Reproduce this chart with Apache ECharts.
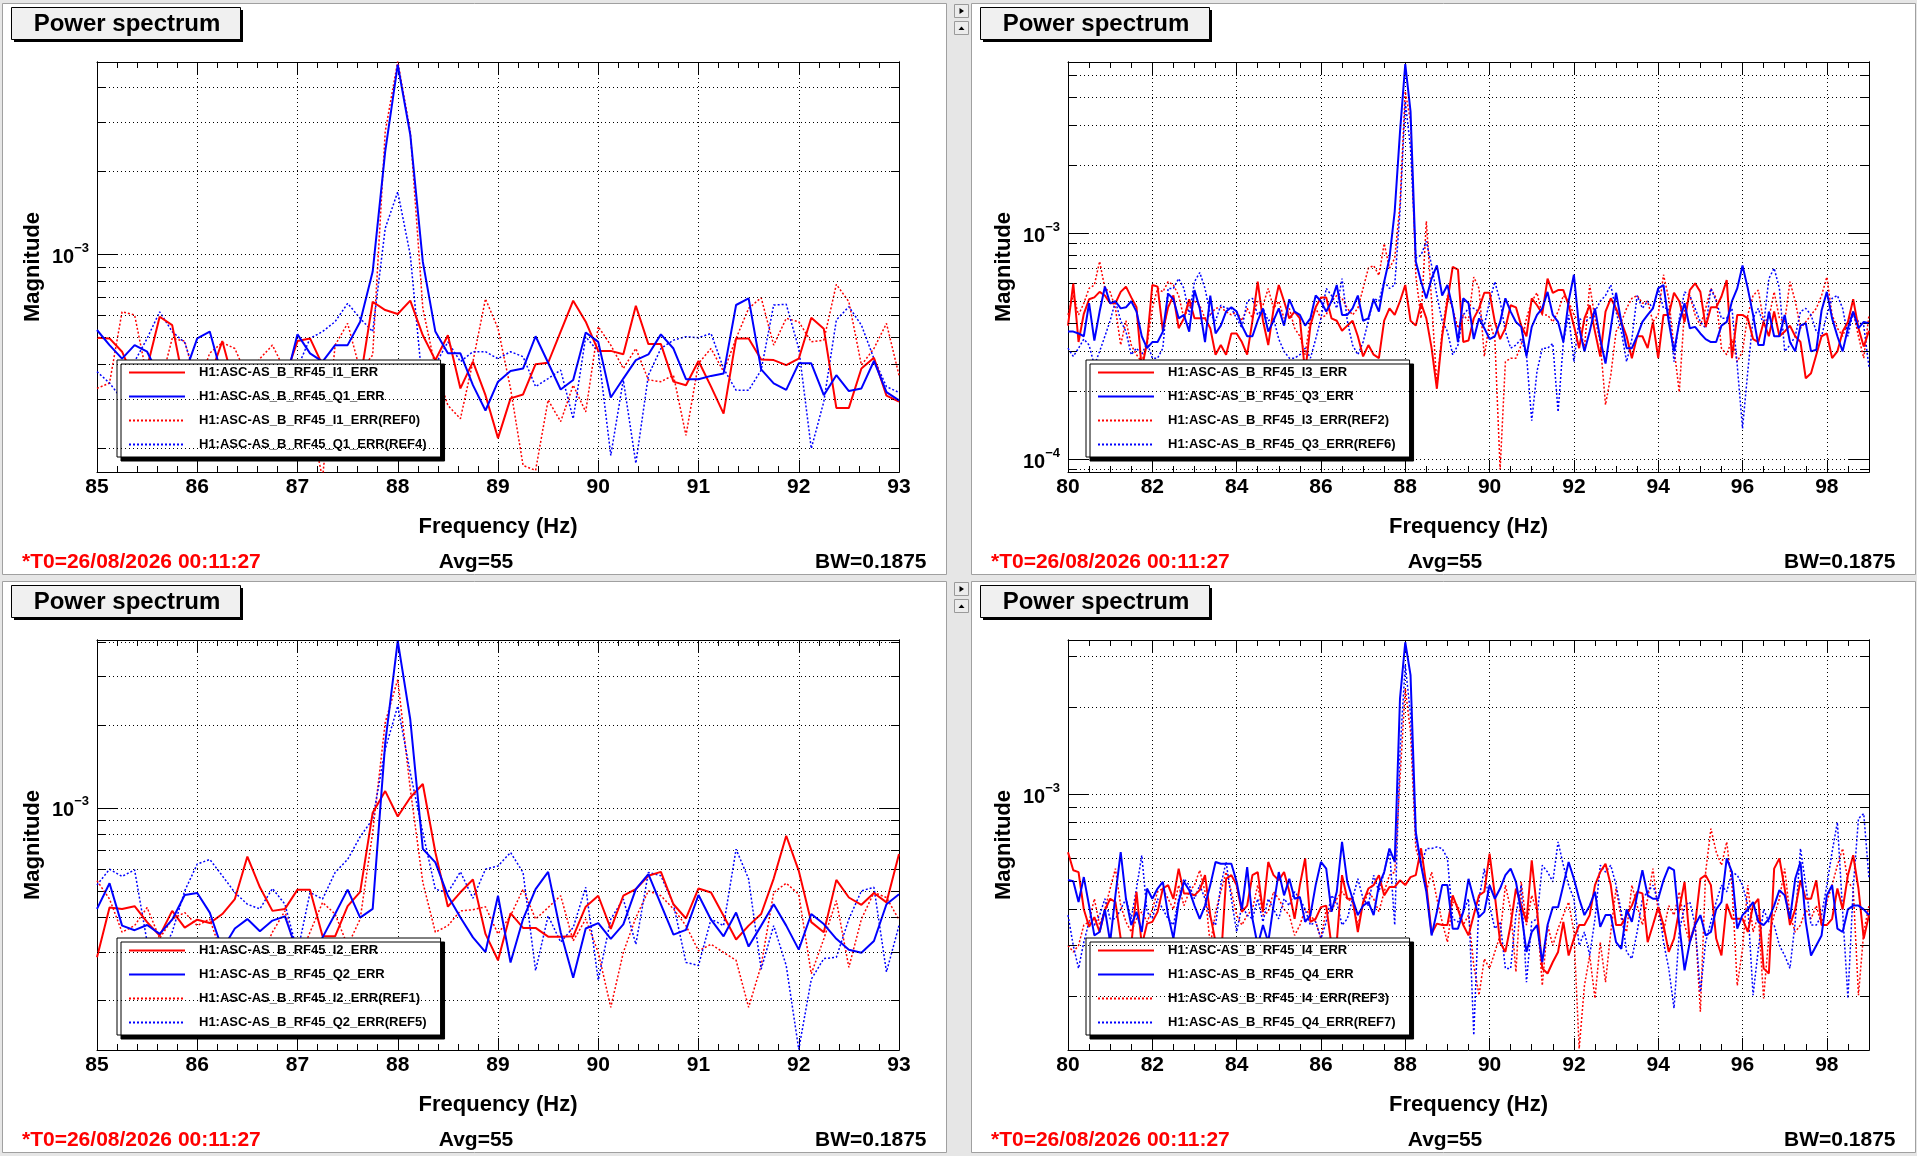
<!DOCTYPE html>
<html>
<head>
<meta charset="utf-8">
<title>Power spectrum</title>
<script src="https://cdn.jsdelivr.net/npm/echarts@6.0.0/dist/echarts.min.js"></script>
<style>
  html, body { margin: 0; padding: 0; background: #e6e6e6; }
  #chart { width: 1917px; height: 1156px; }
</style>
</head>
<body>
<div id="chart"></div>
<script>
// DTT power spectra, Hanning window: BW = 1.5 * df -> df = 0.125 Hz
const DF = 0.125;
const FONT = "'Liberation Sans', Arial, Helvetica, sans-serif";

// ---- magnitudes, units of 1e-4 ----
// top left: 85 - 93 Hz
const tlI1 = [5.0, 4.97, 4.45, 3.5, 3.9, 5.95, 5.55, 3.3, 2.9, 3.6, 4.86, 3.3, 3.0, 3.4, 3.2, 3.6, 4.86, 4.97, 3.98, 3.5, 3.3, 3.5, 6.74, 6.29, 6.09, 6.8, 5.1, 4.15, 5.1, 3.28, 4.1, 3.1, 2.17,
  3.02, 3.12, 4.01, 4.06, 5.26, 6.8, 5.71, 4.48, 4.48, 4.36, 6.52, 4.74, 4.74, 3.47, 3.37, 4.12, 3.33, 2.66, 4.97, 4.97, 4.17, 4.15, 3.98, 4.2, 5.9, 5.38, 2.79, 2.79, 3.87, 4.23, 3.09, 2.94];
const tlQ1 = [5.33, 4.7, 4.2, 4.7, 4.45, 3.6, 3.2, 3.7, 4.97, 5.26, 3.6, 3.2, 3.0, 3.3, 3.1, 3.4, 5.14, 4.39, 4.1, 4.7, 4.7, 5.71, 8.66, 23.5, 48.3, 27.0, 9.4, 5.26, 4.39, 4.39, 3.37, 2.73, 3.47,
  3.79, 3.87, 5.06, 4.06, 3.25, 3.52, 5.22, 4.83, 3.04, 3.56, 4.15, 4.35, 5.14, 4.57, 3.54, 3.54, 3.64, 3.71, 6.56, 6.93, 3.84, 3.42, 3.24, 4.04, 4.04, 3.1, 3.66, 3.21, 3.28, 4.12, 3.18, 2.97];
const tlI1ref = [3.28, 3.43, 6.2, 6.04, 3.6, 3.3, 4.97, 4.86, 3.3, 4.4, 4.8, 4.57, 3.6, 4.2, 4.7, 3.8, 3.2, 2.6, 1.55, 4.7, 5.63, 3.8, 4.33, 27.7, 49.7, 27.7, 6.38, 3.9, 2.85, 2.55, 4.1, 6.9, 5.4,
  3.28, 1.73, 1.66, 2.98, 2.49, 3.37, 2.7, 5.48, 4.7, 3.87, 4.57, 3.52, 3.47, 3.66, 2.22, 4.04, 4.57, 3.77, 4.97, 6.38, 6.97, 4.7, 5.87, 5.71, 4.83, 4.9, 7.79, 6.74, 3.98, 4.57, 5.63, 3.66];
const tlQ1ref = [3.77, 3.43, 3.0, 4.1, 4.97, 6.2, 5.26, 4.8, 3.5, 3.2, 3.0, 3.3, 3.1, 3.4, 3.3, 3.6, 3.9, 4.97, 5.26, 5.71, 6.65, 5.87, 5.26, 12.4, 16.8, 9.94, 3.3, 4.0, 4.83, 4.1, 4.45, 4.45, 4.2,
  4.45, 4.27, 3.33, 3.56, 3.82, 2.55, 5.04, 4.45, 1.88, 3.52, 1.76, 3.66, 4.57, 4.9, 5.04, 5.0, 5.18, 3.87, 3.23, 3.23, 3.82, 6.56, 6.6, 4.57, 1.99, 2.94, 5.79, 6.47, 5.55, 4.2, 3.33, 3.17];

// top right: 80 - 99 Hz
const trI3 = [3.9, 6.0, 3.3, 4.4, 5.1, 5.2, 5.5, 5.3, 4.9, 4.9, 5.5, 5.8, 5.2, 4.7, 2.5, 3.3, 5.9, 5.8, 3.7, 4.7,
  5.3, 3.8, 4.2, 5.1, 4.2, 4.2, 4.2, 3.8, 2.9, 3.2, 2.9, 3.6, 3.6, 3.3, 2.9, 4.1, 6.1, 4.1, 3.2, 4.6,
  5.9, 5.0, 4.2, 4.5, 4.2, 2.4, 3.9, 4.7, 5.2, 5.2, 4.2, 4.1, 3.7, 3.9, 4.1, 3.5, 2.85, 3.2, 2.9, 2.8,
  4.1, 4.65, 4.35, 5.0, 5.9, 4.1, 3.9, 4.9, 4.2, 3.1, 2.05, 3.5, 5.0, 7.1, 6.9, 3.3, 3.35,
  4.2, 4.65, 5.45, 5.45, 4.05, 3.4, 3.8, 4.8, 4.7, 3.9, 3.5, 5.15, 4.8, 4.4, 6.3, 5.45, 5.6, 5.6, 4.8, 3.9,
  3.1, 4.2, 4.8, 3.67, 2.85, 4.5, 5.15, 4.65, 4.05, 3.5, 2.8, 3.5, 3.5, 3.1, 4.05, 2.8, 4.35, 4.35, 5.45, 5.0,
  4.05, 5.6, 6.0, 5.5, 3.85, 4.7, 4.7, 5.25, 6.2, 2.8, 4.35, 4.35, 4.2, 3.4, 3.3, 4.05, 3.5, 4.5, 3.5, 3.67,
  3.9, 3.5, 3.3, 2.28, 2.4, 2.9, 3.5, 3.6, 2.8, 3.0, 3.67, 4.05, 5.1, 3.8, 3.15, 3.7];
const trQ3 = [3.67, 3.67, 3.6, 3.5, 4.9, 3.35, 4.5, 5.8, 4.9, 5.0, 4.65, 4.7, 5.0, 4.5, 3.5, 3.1, 3.3, 3.3, 3.67, 5.4,
  5.1, 4.2, 4.35, 3.67, 5.6, 4.65, 3.3, 5.3, 3.6, 3.9, 4.5, 4.7, 4.5, 3.9, 3.5, 3.5, 4.1, 4.65, 3.67, 4.1,
  4.65, 3.9, 5.1, 4.5, 4.35, 3.9, 4.2, 5.3, 5.0, 4.5, 5.0, 5.9, 4.35, 4.35, 4.65, 5.3, 4.1, 4.2, 5.1, 4.5,
  6.1, 7.75, 12.5, 28.0, 56.0, 34.6, 7.5, 6.1, 5.15, 6.3, 7.2, 5.3, 5.9, 4.65, 3.3, 5.15, 4.9,
  3.4, 4.2, 3.8, 3.4, 3.5, 4.05, 5.15, 4.5, 4.05, 3.85, 2.85, 3.85, 4.35, 4.65, 5.5, 4.35, 4.05, 3.3, 5.0, 6.55,
  3.8, 3.0, 3.67, 4.65, 3.4, 2.65, 3.8, 5.45, 4.05, 3.1, 3.1, 3.5, 4.05, 4.35, 4.65, 5.7, 5.9, 4.05, 3.0, 4.05,
  4.9, 3.8, 3.85, 3.6, 3.4, 3.3, 3.3, 3.9, 4.05, 5.0, 5.7, 7.2, 5.7, 4.35, 3.2, 3.2, 4.5, 3.5, 3.5, 4.35,
  3.3, 3.0, 3.9, 4.0, 3.0, 3.05, 4.55, 5.5, 4.2, 3.5, 3.0, 3.8, 4.5, 3.8, 4.05, 4.0];
const trI3ref = [4.35, 5.3, 4.35, 4.9, 5.7, 5.9, 7.5, 5.7, 5.5, 4.65, 3.2, 4.1, 3.2, 2.9, 2.7, 3.2, 4.65, 5.7, 5.5, 6.1,
  5.9, 5.3, 4.2, 4.8, 5.0, 4.8, 4.2, 4.35, 4.65, 4.7, 4.5, 4.35, 4.5, 4.1, 4.65, 4.2, 5.0, 4.8, 5.7, 4.65,
  5.0, 4.2, 4.65, 3.8, 3.5, 2.9, 4.2, 4.65, 4.2, 4.35, 5.0, 5.3, 5.15, 4.65, 4.35, 4.65, 5.7, 7.0, 7.2, 6.5,
  9.0, 7.0, 7.75, 13.4, 42.4, 31.2, 6.5, 4.2, 11.3, 5.0, 2.1, 3.67, 5.3, 4.65, 3.8, 4.35, 4.1,
  6.4, 5.7, 2.85, 4.05, 3.4, 0.9, 2.7, 2.8, 2.8, 3.2, 4.2, 5.0, 5.45, 4.35, 4.35, 4.05, 4.5, 5.3, 5.0, 4.35,
  4.05, 3.1, 5.9, 4.2, 3.3, 1.74, 2.35, 3.67, 4.05, 4.65, 5.15, 5.3, 4.9, 5.0, 4.05, 4.35, 6.55, 5.15, 3.1, 1.98,
  4.65, 5.3, 4.35, 3.9, 4.65, 5.7, 5.15, 3.1, 2.9, 3.4, 2.7, 3.0, 4.35, 5.3, 5.6, 4.05, 4.2, 5.5, 4.2, 4.05,
  6.1, 5.0, 3.8, 4.05, 4.35, 4.65, 5.3, 6.4, 4.35, 3.8, 3.5, 4.05, 4.5, 3.5, 2.8, 4.35];
const trQ3ref = [3.1, 2.85, 3.1, 3.4, 3.2, 2.6, 3.0, 3.5, 4.1, 5.0, 4.1, 3.67, 2.9, 3.1, 2.9, 3.3, 2.8, 2.8, 3.1, 5.7,
  5.7, 6.3, 5.7, 4.35, 6.1, 6.7, 5.7, 4.35, 4.1, 4.8, 4.65, 4.65, 4.2, 3.8, 5.0, 5.15, 4.35, 4.65, 4.1, 4.2,
  3.4, 3.0, 2.8, 2.8, 2.9, 3.1, 2.8, 3.4, 4.2, 5.7, 5.3, 4.65, 6.3, 4.1, 3.2, 2.9, 3.3, 4.1, 5.15, 5.0,
  6.1, 5.7, 5.9, 12.5, 38.3, 23.8, 7.75, 8.0, 9.2, 7.2, 5.3, 4.1, 3.67, 2.9, 3.2, 4.35, 4.65,
  4.65, 4.5, 3.9, 5.0, 6.1, 5.0, 3.67, 3.1, 3.2, 3.4, 2.9, 1.48, 2.45, 3.1, 3.1, 3.25, 1.62, 3.3, 4.35, 2.7,
  4.2, 4.05, 4.2, 4.5, 5.0, 5.3, 5.9, 4.5, 3.67, 2.7, 3.4, 5.3, 4.65, 5.0, 4.65, 5.7, 4.65, 4.65, 2.7, 4.2,
  5.5, 5.3, 4.65, 4.05, 3.8, 5.7, 5.0, 4.2, 4.2, 4.65, 2.6, 1.37, 2.45, 4.2, 4.65, 3.9, 6.3, 7.0, 5.7, 3.0,
  3.2, 3.5, 4.5, 4.65, 4.35, 3.67, 3.5, 4.35, 5.15, 5.3, 4.65, 3.5, 4.5, 4.05, 3.9, 2.55];

// bottom left: 85 - 93 Hz
const blI2 = [2.87, 4.35, 4.3, 4.4, 3.85, 3.44, 4.23, 3.68, 3.93, 3.82, 4.12, 4.67, 6.66, 5.15, 4.23, 4.3, 5.05, 5.05, 3.42, 3.42, 4.4, 4.96, 9.6, 11.5, 9.3, 10.9, 12.2, 6.9, 4.38, 4.94, 5.5, 3.49, 2.8,
  4.15, 3.67, 3.67, 3.41, 3.41, 3.42, 4.38, 4.8, 3.64, 4.8, 5.07, 5.67, 5.86, 4.47, 3.97, 5.1, 4.93, 4.06, 3.33, 3.74, 4.12, 5.54, 7.92, 5.91, 3.85, 3.54, 5.48, 4.73, 4.45, 4.91, 4.54, 6.8];
const blQ2 = [4.3, 5.33, 3.74, 3.6, 3.76, 3.49, 3.93, 4.83, 4.91, 4.17, 3.07, 3.65, 3.95, 3.57, 3.9, 4.04, 2.99, 2.68, 3.39, 4.12, 5.05, 4.0, 4.3, 17.2, 40.3, 20.9, 7.1, 6.34, 4.8, 4.0, 3.39, 3.0, 4.8,
  2.75, 3.95, 5.07, 5.86, 3.54, 2.42, 3.65, 3.82, 3.35, 3.78, 5.07, 5.75, 4.47, 3.47, 3.61, 4.83, 3.93, 3.42, 4.17, 3.14, 3.74, 4.47, 3.74, 3.06, 4.12, 3.79, 3.35, 3.06, 2.98, 3.29, 4.47, 4.86];
const blI2ref = [5.44, 4.67, 3.54, 3.74, 4.35, 3.36, 3.95, 4.17, 3.74, 3.95, 2.9, 2.68, 2.33, 2.83, 3.54, 4.23, 2.76, 3.54, 4.54, 4.12, 3.16, 3.95, 8.14, 20.4, 29.2, 11.7, 5.37, 3.54, 3.74, 4.23, 4.27, 4.38, 3.49,
  4.06, 5.07, 3.95, 4.35, 4.8, 3.29, 3.95, 2.99, 1.89, 2.99, 4.0, 5.0, 4.8, 4.3, 3.74, 3.03, 3.2, 2.99, 2.8, 1.89, 2.68, 4.93, 5.33, 4.86, 2.5, 3.35, 4.61, 2.64, 3.95, 4.93, 4.73, 3.93];
const blQ2ref = [5.25, 5.99, 5.64, 5.96, 3.26, 2.83, 3.54, 5.0, 6.25, 6.5, 5.67, 4.93, 4.47, 4.3, 5.1, 4.47, 2.99, 4.93, 4.67, 5.83, 6.5, 7.86, 9.1, 16.3, 23.4, 13.4, 8.14, 5.07, 4.93, 5.86, 4.7, 5.99, 6.15,
  6.89, 5.83, 2.57, 4.06, 3.26, 3.68, 5.15, 2.37, 3.95, 4.67, 3.2, 5.83, 5.67, 4.47, 2.75, 2.68, 3.95, 3.74, 7.08, 5.52, 2.6, 3.74, 2.68, 1.33, 2.39, 2.84, 2.87, 3.95, 5.0, 5.15, 2.54, 3.74];

// bottom right: 80 - 99 Hz
const brI4 = [6.3, 5.46, 5.38, 4.0, 3.48, 3.76, 3.34, 3.97, 4.35, 4.24, 3.17, 2.85, 3.0, 4.6, 3.0, 3.57, 3.62, 3.92, 4.72, 4.85,
  4.35, 5.53, 4.54, 4.54, 4.47, 4.66, 5.25, 3.82, 3.08, 2.63, 5.1, 5.25, 4.85, 3.92, 4.12, 5.25, 5.38, 3.92, 5.83, 5.25,
  5.04, 5.38, 4.6, 3.71, 4.85, 6.0, 3.62, 3.71, 4.07, 4.12, 3.0, 3.08, 5.25, 4.35, 4.35, 3.34, 4.24, 4.72, 4.85, 5.25,
  4.47, 4.78, 4.78, 5.04, 4.85, 5.17, 5.25, 6.5, 4.85, 3.3, 3.57, 3.53, 3.53, 4.47, 4.0, 3.53, 3.25,
  3.82, 4.47, 4.6, 6.23, 4.47, 3.08, 2.85, 3.53, 4.72, 4.12, 3.62, 5.91, 4.0, 2.5, 2.4, 2.63, 2.85, 3.62, 2.77, 3.17,
  3.53, 3.53, 3.82, 4.85, 5.38, 5.75, 4.85, 3.53, 3.53, 3.82, 4.12, 4.6, 4.54, 3.08, 3.53, 4.07, 3.53, 2.85, 3.17, 4.0,
  4.98, 3.08, 3.53, 5.1, 5.25, 4.85, 3.17, 2.77, 4.18, 3.71, 3.71, 3.71, 3.34, 4.12, 4.35, 2.5, 2.4, 5.53, 6.0, 4.72,
  3.53, 4.0, 5.04, 4.35, 4.35, 5.04, 3.53, 3.53, 3.71, 4.72, 4.0, 5.25, 6.15, 4.72, 3.17, 3.82];
const brQ4 = [5.05, 5.0, 4.24, 5.17, 4.12, 3.25, 3.34, 4.0, 3.08, 4.47, 6.3, 4.35, 3.53, 3.92, 3.34, 4.72, 4.35, 4.72, 4.98, 3.82,
  3.17, 4.24, 4.98, 4.66, 4.12, 3.71, 4.12, 4.85, 5.83, 5.75, 5.75, 5.75, 4.98, 4.0, 5.6, 3.71, 3.0, 3.53, 3.08, 4.12,
  5.38, 4.47, 5.1, 4.35, 4.41, 3.62, 3.82, 4.85, 5.83, 5.53, 3.92, 4.6, 6.84, 4.98, 4.35, 3.82, 4.12, 4.24, 3.82, 4.85,
  5.38, 6.49, 5.83, 21.4, 33.5, 25.8, 7.4, 5.68, 4.6, 3.25, 3.92, 4.85, 4.85, 3.43, 3.43, 3.92, 5.1,
  4.35, 3.76, 3.92, 4.85, 4.35, 4.72, 5.25, 5.53, 4.98, 3.92, 2.85, 3.34, 3.53, 2.63, 3.53, 4.07, 4.07, 4.85, 5.83, 5.1,
  4.35, 3.82, 4.12, 4.6, 3.48, 3.82, 3.82, 3.08, 2.92, 4.0, 3.62, 4.47, 5.46, 4.47, 4.35, 4.35, 5.04, 5.6, 5.46, 3.53,
  2.46, 3.08, 3.53, 3.82, 3.25, 3.34, 4.0, 4.24, 6.0, 5.38, 3.43, 3.82, 4.0, 4.24, 3.62, 3.53, 3.71, 4.12, 4.66, 4.47,
  3.71, 5.1, 5.83, 3.62, 2.77, 3.0, 3.25, 4.47, 4.85, 3.43, 3.34, 4.0, 4.12, 4.12, 4.0, 3.82];
const brI4ref = [3.0, 2.85, 3.0, 3.53, 3.62, 4.35, 3.53, 4.0, 4.72, 5.53, 4.12, 3.62, 3.34, 3.71, 3.92, 3.62, 4.0, 4.6, 4.72, 4.35,
  4.0, 4.85, 4.12, 4.6, 4.85, 5.46, 4.6, 3.0, 3.92, 4.6, 5.38, 4.6, 3.82, 3.53, 3.82, 4.0, 4.85, 3.82, 3.92, 4.6,
  4.35, 4.0, 3.82, 3.25, 3.53, 4.0, 3.82, 3.62, 3.17, 4.0, 3.92, 4.35, 4.6, 4.35, 4.24, 3.53, 4.12, 4.6, 4.35, 3.92,
  4.6, 5.25, 5.38, 11.3, 23.2, 16.4, 6.49, 5.68, 4.6, 5.38, 4.35, 3.62, 3.08, 4.24, 4.12, 3.53, 3.82,
  2.56, 2.02, 2.7, 2.5, 2.85, 3.25, 4.85, 4.0, 2.43, 4.98, 3.53, 4.47, 3.92, 2.18, 3.53, 3.0, 3.43, 3.82, 4.24, 3.34,
  1.32, 2.18, 2.77, 1.97, 3.08, 2.24, 3.34, 4.72, 3.71, 3.34, 4.85, 4.12, 3.53, 4.35, 5.53, 3.92, 3.34, 4.12, 3.82, 4.6,
  3.53, 3.08, 3.62, 1.77, 5.38, 7.6, 6.32, 5.68, 6.84, 4.85, 2.18, 2.92, 4.85, 3.34, 3.82, 1.97, 3.25, 3.82, 4.35, 5.53,
  3.82, 3.34, 3.53, 4.0, 3.71, 4.12, 3.53, 4.24, 4.85, 5.68, 6.49, 4.98, 4.72, 2.02, 3.34, 4.12];
const brQ4ref = [3.82, 3.0, 2.5, 3.08, 3.62, 3.53, 3.82, 4.35, 3.71, 3.71, 4.0, 4.35, 3.71, 4.72, 6.15, 3.92, 3.71, 4.35, 4.0, 3.71,
  3.53, 4.35, 5.1, 4.85, 4.35, 4.85, 4.35, 3.71, 3.53, 4.85, 5.83, 4.35, 3.34, 4.12, 3.82, 3.71, 4.35, 3.62, 4.35, 4.0,
  3.71, 4.35, 4.12, 4.6, 4.35, 4.0, 3.53, 3.62, 3.17, 3.62, 4.47, 4.24, 3.53, 3.71, 4.35, 5.1, 4.35, 4.12, 5.25, 4.6,
  5.38, 6.49, 3.53, 14.0, 28.0, 18.8, 7.03, 5.68, 6.49, 6.49, 6.57, 6.49, 6.0, 3.71, 3.62, 3.92, 4.35,
  1.47, 4.35, 5.53, 4.12, 3.43, 3.62, 2.5, 2.5, 3.82, 4.85, 2.24, 3.62, 3.71, 5.68, 5.38, 4.98, 6.84, 5.68, 4.85, 4.35,
  3.0, 3.34, 2.77, 3.71, 5.68, 5.38, 5.68, 4.85, 3.92, 2.85, 2.7, 3.34, 4.35, 4.6, 4.85, 4.24, 3.08, 2.5, 1.82, 3.34,
  4.12, 4.24, 3.53, 2.07, 3.08, 3.62, 4.24, 4.85, 4.6, 5.38, 5.25, 4.85, 4.12, 2.02, 2.92, 4.0, 3.62, 3.53, 3.0, 2.77,
  2.5, 3.62, 6.49, 4.85, 3.53, 3.53, 3.82, 4.85, 6.32, 8.0, 3.92, 1.97, 4.72, 8.24, 8.57, 5.1];

const tlNames = ['H1:ASC-AS_B_RF45_I1_ERR', 'H1:ASC-AS_B_RF45_Q1_ERR', 'H1:ASC-AS_B_RF45_I1_ERR(REF0)', 'H1:ASC-AS_B_RF45_Q1_ERR(REF4)'];
const trNames = ['H1:ASC-AS_B_RF45_I3_ERR', 'H1:ASC-AS_B_RF45_Q3_ERR', 'H1:ASC-AS_B_RF45_I3_ERR(REF2)', 'H1:ASC-AS_B_RF45_Q3_ERR(REF6)'];
const blNames = ['H1:ASC-AS_B_RF45_I2_ERR', 'H1:ASC-AS_B_RF45_Q2_ERR', 'H1:ASC-AS_B_RF45_I2_ERR(REF1)', 'H1:ASC-AS_B_RF45_Q2_ERR(REF5)'];
const brNames = ['H1:ASC-AS_B_RF45_I4_ERR', 'H1:ASC-AS_B_RF45_Q4_ERR', 'H1:ASC-AS_B_RF45_I4_ERR(REF3)', 'H1:ASC-AS_B_RF45_Q4_ERR(REF7)'];

const footT0 = '*T0=26/08/2026 00:11:27';
const footAvg = 'Avg=55';
const footBW = 'BW=0.1875';

// panel layout (pixels of the 1917x1156 canvas)
const panels = [
  { ox: 3, oy: 4, gx: 97, gy: 62, gw: 802, fmin: 85, fmax: 93, step: 1, minor: 5, ymin: 1.638e-4, ymax: 4.94e-3, names: tlNames, data: [tlI1, tlQ1, tlI1ref, tlQ1ref] },
  { ox: 972, oy: 4, gx: 1068, gy: 62, gw: 801, fmin: 80, fmax: 99, step: 2, minor: 4, ymin: 8.78e-5, ymax: 5.72e-3, names: trNames, data: [trI3, trQ3, trI3ref, trQ3ref] },
  { ox: 3, oy: 582, gx: 97, gy: 640, gw: 802, fmin: 85, fmax: 93, step: 1, minor: 5, ymin: 1.324e-4, ymax: 4.06e-3, names: blNames, data: [blI2, blQ2, blI2ref, blQ2ref] },
  { ox: 972, oy: 582, gx: 1068, gy: 640, gw: 801, fmin: 80, fmax: 99, step: 2, minor: 4, ymin: 1.306e-4, ymax: 3.41e-3, names: brNames, data: [brI4, brQ4, brI4ref, brQ4ref] }
];

const lineStyles = [
  { color: '#ff0000', width: 2, type: 'solid' },
  { color: '#0000ff', width: 2, type: 'solid' },
  { color: '#ff0000', width: 1.5, type: [2, 2] },
  { color: '#0000ff', width: 1.5, type: [2, 2] }
];

function logGrid(lo, hi) {
  const out = [];
  for (let e = Math.floor(Math.log10(lo)); e <= Math.ceil(Math.log10(hi)); e++) {
    for (let m = 1; m <= 9; m++) {
      const v = +(m * Math.pow(10, e)).toPrecision(3);
      if (v > lo && v < hi) out.push(v);
    }
  }
  return out;
}
const isDecade = v => Math.abs(Math.log10(v) - Math.round(Math.log10(v))) < 1e-6;
const powLabel = v => {
  if (!isDecade(v)) return '';
  const e = Math.round(Math.log10(v));
  return '{b|10}{s|' + (e < 0 ? '\u2212' + (-e) : e) + '}';
};

const black = { color: '#000', width: 1 };
const grid = [], xAxis = [], yAxis = [], series = [], legend = [], graphic = [];

panels.forEach((p, idx) => {
  grid.push({ left: p.gx, top: p.gy, width: p.gw, height: 410 });

  const gv = logGrid(p.ymin, p.ymax);
  const decades = gv.filter(isDecade);
  const minors = gv.filter(v => !isDecade(v));

  const xBase = {
    gridIndex: idx, type: 'value', min: p.fmin, max: p.fmax, interval: p.step,
    axisLine: { show: true, onZero: false, lineStyle: black },
    axisTick: { show: true, inside: true, length: 12, lineStyle: black },
    minorTick: { show: true, splitNumber: p.minor, length: 6, lineStyle: black }
  };
  xAxis.push(Object.assign({}, xBase, {
    position: 'bottom',
    axisLabel: { color: '#000', fontSize: 21, fontWeight: 'bold', fontFamily: FONT, margin: 5, showMaxLabel: p.fmax % p.step === 0 },
    splitLine: { show: true, lineStyle: { color: '#000', width: 1, type: [1, 3] } },
    name: 'Frequency (Hz)', nameLocation: 'middle', nameGap: 44,
    nameTextStyle: { color: '#000', fontSize: 22, fontWeight: 'bold', fontFamily: FONT }
  }));
  xAxis.push(Object.assign({}, xBase, { position: 'top', axisLabel: { show: false }, splitLine: { show: false } }));

  const yBase = {
    gridIndex: idx, type: 'log', logBase: 10, min: p.ymin, max: p.ymax,
    axisLine: { show: true, onZero: false, lineStyle: black },
    splitLine: { show: false }, minorTick: { show: false }
  };
  // order matters: ECharts flips an axis to the free side when its side is taken
  yAxis.push(Object.assign({}, yBase, {
    position: 'left',
    axisTick: { show: true, inside: true, length: 20, customValues: decades, lineStyle: black },
    axisLabel: {
      customValues: decades, formatter: powLabel, margin: 8,
      rich: {
        b: { color: '#000', fontSize: 20, fontWeight: 'bold', fontFamily: FONT, padding: [6, 0, 0, 0] },
        s: { color: '#000', fontSize: 13, fontWeight: 'bold', fontFamily: FONT, padding: [0, 0, 12, 0] }
      }
    },
    name: 'Magnitude', nameLocation: 'middle', nameGap: 53, nameRotate: 90,
    nameTextStyle: { color: '#000', fontSize: 22, fontWeight: 'bold', fontFamily: FONT }
  }));
  yAxis.push(Object.assign({}, yBase, {
    position: 'right',
    axisTick: { show: true, inside: true, length: 20, customValues: decades, lineStyle: black },
    axisLabel: { show: false }
  }));
  yAxis.push(Object.assign({}, yBase, {
    position: 'left',
    axisTick: { show: true, inside: true, length: 8, customValues: minors, lineStyle: black },
    axisLabel: { show: false }
  }));
  yAxis.push(Object.assign({}, yBase, {
    position: 'right',
    axisTick: { show: true, inside: true, length: 8, customValues: minors, lineStyle: black },
    axisLabel: { show: false }
  }));

  // references underneath, live traces on top
  [2, 3, 0, 1].forEach((s, n) => {
    const item = {
      name: p.names[s], type: 'line',
      xAxisIndex: idx * 2, yAxisIndex: idx * 4,
      data: p.data[s].map((v, i) => [p.fmin + i * DF, v * 1e-4]),
      symbol: 'none', showSymbol: false, silent: true, clip: true,
      lineStyle: lineStyles[s], itemStyle: { color: lineStyles[s].color },
      emphasis: { disabled: true }
    };
    if (n === 0) {
      // dotted log grid (1..9 x 10^n); precision kept high so 2e-4 is not rounded to 0
      item.markLine = {
        silent: true, precision: 12, symbol: ['none', 'none'], label: { show: false },
        lineStyle: { color: '#000', width: 1, type: [1, 3] },
        emphasis: { disabled: true },
        data: gv.map(v => ({ yAxis: v }))
      };
    }
    series.push(item);
  });

  legend.push({
    left: p.ox + 114, top: p.oy + 356, orient: 'vertical',
    data: p.names, selectedMode: false,
    itemWidth: 56, itemHeight: 14, itemGap: 11, padding: [6, 14, 6, 11],
    itemStyle: { opacity: 0 },
    backgroundColor: '#fff', borderColor: '#000', borderWidth: 1, borderRadius: 0,
    shadowColor: '#000', shadowBlur: 0, shadowOffsetX: 4, shadowOffsetY: 4,
    textStyle: { color: '#000', fontSize: 13, fontWeight: 'bold', fontFamily: FONT, padding: [0, 0, 0, 9] }
  });

  // pad frame
  graphic.push({ type: 'rect', z: -1, silent: true, shape: { x: p.ox - 0.5, y: p.oy - 0.5, width: 944, height: 571 }, style: { fill: '#fff', stroke: '#a0a0a0', lineWidth: 1 } });
  // title box
  const tx = p.ox + 8, ty = p.oy + 3;
  graphic.push({ type: 'rect', z: 50, silent: true, shape: { x: tx + 3, y: ty + 3, width: 229, height: 32 }, style: { fill: '#000' } });
  graphic.push({ type: 'rect', z: 51, silent: true, shape: { x: tx + 0.5, y: ty + 0.5, width: 229, height: 32 }, style: { fill: '#f0f0f0', stroke: '#000', lineWidth: 1 } });
  graphic.push({ type: 'text', z: 52, silent: true, style: { text: 'Power spectrum', x: tx + 116, y: ty + 17, align: 'center', verticalAlign: 'middle', fill: '#000', fontSize: 24, fontWeight: 'bold', fontFamily: FONT } });
  // footer
  const fy = p.oy + 558.5;
  graphic.push({ type: 'text', z: 52, silent: true, style: { text: footT0, x: p.ox + 19, y: fy, align: 'left', verticalAlign: 'middle', fill: '#ff0000', fontSize: 21, fontWeight: 'bold', fontFamily: FONT } });
  graphic.push({ type: 'text', z: 52, silent: true, style: { text: footAvg, x: p.ox + 473, y: fy, align: 'center', verticalAlign: 'middle', fill: '#000', fontSize: 21, fontWeight: 'bold', fontFamily: FONT } });
  graphic.push({ type: 'text', z: 52, silent: true, style: { text: footBW, x: p.ox + 923.5, y: fy, align: 'right', verticalAlign: 'middle', fill: '#000', fontSize: 21, fontWeight: 'bold', fontFamily: FONT } });
});

// little pad buttons in the gutter
[4, 582].forEach(by => {
  graphic.push({ type: 'rect', z: 1, silent: true, shape: { x: 954.5, y: by + 0.5, width: 14, height: 13 }, style: { fill: '#ececec', stroke: '#9a9a9a', lineWidth: 1 } });
  graphic.push({ type: 'polygon', z: 2, silent: true, shape: { points: [[959.5, by + 4], [964, by + 7], [959.5, by + 10]] }, style: { fill: '#000' } });
  graphic.push({ type: 'rect', z: 1, silent: true, shape: { x: 954.5, y: by + 17.5, width: 14, height: 13 }, style: { fill: '#ececec', stroke: '#9a9a9a', lineWidth: 1 } });
  graphic.push({ type: 'polygon', z: 2, silent: true, shape: { points: [[958.5, by + 26], [964.5, by + 26], [961.5, by + 22.5]] }, style: { fill: '#000' } });
});

const chart = echarts.init(document.getElementById('chart'), null, { renderer: 'canvas' });
chart.setOption({
  animation: false,
  backgroundColor: '#e6e6e6',
  grid: grid,
  xAxis: xAxis,
  yAxis: yAxis,
  legend: legend,
  series: series,
  graphic: graphic
});
</script>
</body>
</html>
